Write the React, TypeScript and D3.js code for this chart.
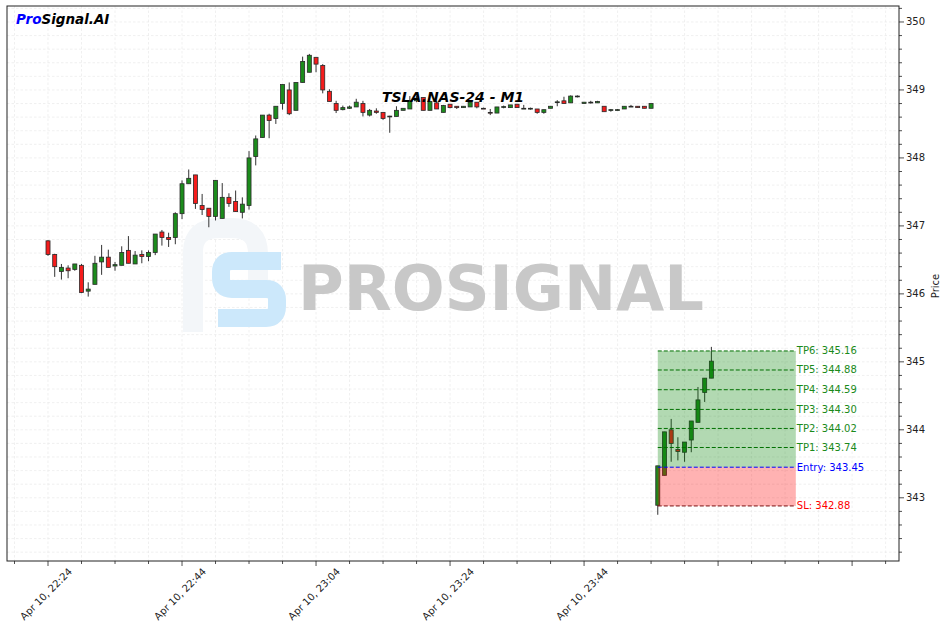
import React from "react";
import * as d3 from "d3";

// minute index 0 = Apr 10, 22:24
const opens = [
  346.78, 346.58, 346.33, 346.38, 346.36, 346.42, 346.04, 346.14, 346.47, 346.54,
  346.41, 346.42, 346.64, 346.44, 346.58, 346.55, 346.61, 346.91, 346.83, 346.83,
  347.18, 347.62, 347.75, 347.30, 347.26, 347.14, 347.11, 347.42, 347.36, 347.20,
  347.30, 348.02, 348.30, 348.63, 348.58, 348.80, 349.00, 348.70, 349.11, 349.26,
  349.48, 349.36, 348.98, 348.80, 348.71, 348.73, 348.75, 348.80, 348.63, 348.69,
  348.67, 348.61, 348.61, 348.70, 348.72, 348.84, 348.89, 348.70, 348.81, 348.67,
  348.79, 348.76, 348.74, 348.75, 348.82, 348.73, 348.67, 348.66, 348.75, 348.74,
  348.79, 348.73, 348.72, 348.72, 348.67, 348.73, 348.82, 348.84, 348.81, 348.91,
  348.80, 348.82, 348.81, 348.76, 348.71, 348.71, 348.72, 348.76, 348.76, 348.76,
  348.73, 342.89, 343.33, 344.00, 343.71, 343.67, 343.85, 344.11, 344.55, 344.76,
];
const highs = [
  346.79, 346.59, 346.44, 346.42, 346.44, 346.44, 346.17, 346.56, 346.72, 346.65,
  346.47, 346.70, 346.85, 346.63, 346.64, 346.64, 346.88, 346.94, 346.90, 347.20,
  347.67, 347.83, 347.75, 347.47, 347.26, 347.67, 347.63, 347.48, 347.52, 347.42,
  348.10, 348.33, 348.63, 348.65, 348.76, 349.08, 349.11, 349.11, 349.49, 349.53,
  349.48, 349.38, 349.01, 348.84, 348.77, 348.77, 348.87, 348.84, 348.72, 348.73,
  348.67, 348.62, 348.76, 348.73, 348.91, 348.92, 348.89, 348.84, 348.84, 348.78,
  348.79, 348.76, 348.76, 348.84, 348.82, 348.74, 348.72, 348.75, 348.77, 348.78,
  348.79, 348.78, 348.74, 348.72, 348.71, 348.76, 348.85, 348.90, 348.92, 348.92,
  348.82, 348.84, 348.84, 348.76, 348.72, 348.72, 348.76, 348.78, 348.76, 348.76,
  348.80, 343.47, 343.97, 344.16, 343.89, 343.82, 344.13, 344.63, 344.76, 345.22,
];
const lows = [
  346.56, 346.25, 346.21, 346.23, 346.34, 346.01, 345.96, 346.14, 346.28, 346.39,
  346.34, 346.42, 346.45, 346.44, 346.45, 346.48, 346.57, 346.71, 346.69, 346.73,
  347.10, 347.62, 347.25, 347.16, 346.98, 347.08, 347.11, 347.28, 347.21, 347.11,
  347.24, 347.89, 348.30, 348.29, 348.50, 348.71, 348.63, 348.70, 349.11, 349.26,
  349.26, 348.95, 348.83, 348.66, 348.70, 348.72, 348.75, 348.61, 348.61, 348.65,
  348.56, 348.37, 348.61, 348.70, 348.72, 348.82, 348.70, 348.70, 348.72, 348.67,
  348.73, 348.72, 348.74, 348.75, 348.73, 348.72, 348.63, 348.66, 348.73, 348.74,
  348.74, 348.73, 348.71, 348.65, 348.65, 348.73, 348.76, 348.80, 348.81, 348.89,
  348.80, 348.80, 348.81, 348.68, 348.68, 348.70, 348.72, 348.75, 348.74, 348.73,
  348.73, 342.75, 343.33, 343.53, 343.55, 343.53, 343.67, 344.11, 344.41, 344.76,
];
const closes = [
  346.58, 346.40, 346.39, 346.34, 346.44, 346.02, 346.07, 346.45, 346.54, 346.39,
  346.43, 346.61, 346.45, 346.57, 346.55, 346.61, 346.88, 346.83, 346.80, 347.18,
  347.62, 347.70, 347.33, 347.24, 347.14, 347.67, 347.42, 347.33, 347.21, 347.32,
  348.00, 348.28, 348.63, 348.55, 348.76, 349.08, 348.65, 349.11, 349.42, 349.51,
  349.38, 349.00, 348.83, 348.70, 348.74, 348.75, 348.82, 348.67, 348.70, 348.67,
  348.58, 348.615, 348.70, 348.73, 348.84, 348.88, 348.70, 348.83, 348.72, 348.77,
  348.74, 348.74, 348.76, 348.82, 348.75, 348.72, 348.66, 348.75, 348.755, 348.78,
  348.74, 348.73, 348.73, 348.67, 348.71, 348.76, 348.825, 348.80, 348.91, 348.91,
  348.82, 348.82, 348.83, 348.68, 348.71, 348.71, 348.76, 348.76, 348.74, 348.73,
  348.80, 343.47, 343.97, 343.80, 343.68, 343.82, 344.13, 344.44, 344.76, 345.01,
];

const xMajorMinutes = [0, 20, 40, 60, 80, 100, 120];
const xTickLabels = ["Apr 10, 22:24", "Apr 10, 22:44", "Apr 10, 23:04", "Apr 10, 23:24", "Apr 10, 23:44", "", ""];
const yTicks = [343, 344, 345, 346, 347, 348, 349, 350];

const tpNames = ["TP1", "TP2", "TP3", "TP4", "TP5", "TP6"];
const tpLevels = [343.74, 344.02, 344.3, 344.59, 344.88, 345.16];
const entryPrice = 343.45;
const slPrice = 342.88;
const tradeStart = 91;
const tradeEnd = 111.6;

const titleText = "TSLA.NAS-24 - M1";

const W = 947, H = 630;
const L = 7, R = 899, T = 6, B = 561;
const FONT = "DejaVu Sans, sans-serif";

export default function App() {
  const x = d3.scaleLinear().domain([-6.12, 127.0]).range([L, R]);
  const y = d3.scaleLinear().domain([342.07, 350.235]).range([B, T]);
  const bw = x(0.3) - x(-0.3);

  const yMinor = d3.range(3422, 3503, 2).map((v) => v / 10);
  const xMinor = d3.range(-5, 126, 5);

  const green = "#1c8c1c";
  const red = "#f51c1c";

  const candles = opens.map((o, i) => ({ i, o, h: highs[i], l: lows[i], c: closes[i] }));

  return (
    <div style={{ position: "fixed", left: 0, top: 0 }}>
      <svg width={W} height={H} style={{ display: "block", background: "#fff" }}>
        <rect x={0} y={0} width={W} height={H} fill="#fff" />
        {/* grid */}
        <g>
          {yMinor.map((v) => (
            <line key={"gy" + v} x1={L} x2={R} y1={y(v)} y2={y(v)} stroke="#e6e6e6" strokeWidth={0.6} strokeDasharray="2.5,2" />
          ))}
          {xMinor.map((v) => (
            <line key={"gx" + v} x1={x(v)} x2={x(v)} y1={T} y2={B} stroke="#e6e6e6" strokeWidth={0.6} strokeDasharray="2.5,2" />
          ))}
        </g>

        {/* watermark */}
        <g>
          <path d="M 193 332 V 252 Q 193 228 220 228 H 232 Q 258 228 258 254 V 280" fill="none" stroke="#f3f6f9" strokeWidth={20} />
          <path d="M 281 261 H 232 Q 221 261 221 272 V 278 Q 221 289 232 289 H 266 Q 277 289 277 300 V 306 Q 277 318 266 318 H 218" fill="none" stroke="#cce8fb" strokeWidth={18} />
          <text x={298} y={310} fontFamily={FONT} fontWeight="bold" fontSize={63} fill="#c8c8c8" textLength={406} lengthAdjust="spacingAndGlyphs">PROSIGNAL</text>
        </g>

        {/* candles */}
        <g>
          {candles.map((d) => {
            const up = d.c >= d.o;
            const top = y(Math.max(d.o, d.c));
            const bot = y(Math.min(d.o, d.c));
            const hgt = Math.max(bot - top, 0.8);
            return (
              <g key={"c" + d.i}>
                <line x1={x(d.i)} x2={x(d.i)} y1={y(d.h)} y2={y(d.l)} stroke="#333" strokeWidth={1} />
                <rect x={x(d.i) - bw / 2} y={top} width={bw} height={hgt} fill={up ? green : red} stroke="#2a2a2a" strokeWidth={0.8} />
              </g>
            );
          })}
        </g>

        {/* trade zones (drawn over the candles, translucent) */}
        <rect x={x(tradeStart)} width={x(tradeEnd) - x(tradeStart)} y={y(tpLevels[5])} height={y(entryPrice) - y(tpLevels[5])} fill="rgb(0,128,0)" fillOpacity={0.3} />
        <rect x={x(tradeStart)} width={x(tradeEnd) - x(tradeStart)} y={y(entryPrice)} height={y(slPrice) - y(entryPrice)} fill="rgb(255,0,0)" fillOpacity={0.3} />

        {/* levels */}
        {tpLevels.map((v, k) => (
          <g key={"tp" + k}>
            <line x1={x(tradeStart)} x2={x(tradeEnd)} y1={y(v)} y2={y(v)} stroke="#007000" strokeWidth={1} strokeDasharray="4,2" />
            <text x={x(tradeEnd) + 1} y={y(v)} dominantBaseline="central" fontFamily={FONT} fontSize={10} fill="#1a8a1a">{`${tpNames[k]}: ${v.toFixed(2)}`}</text>
          </g>
        ))}
        <line x1={x(tradeStart)} x2={x(tradeEnd)} y1={y(entryPrice)} y2={y(entryPrice)} stroke="#0000ff" strokeWidth={1} strokeDasharray="4,2" />
        <text x={x(tradeEnd) + 1} y={y(entryPrice)} dominantBaseline="central" fontFamily={FONT} fontSize={10} fill="#0000ff">{`Entry: ${entryPrice.toFixed(2)}`}</text>
        <line x1={x(tradeStart)} x2={x(tradeEnd)} y1={y(slPrice)} y2={y(slPrice)} stroke="#7a1010" strokeWidth={1} strokeDasharray="4,2" />
        <text x={x(tradeEnd) + 1} y={y(slPrice)} dominantBaseline="central" fontFamily={FONT} fontSize={10} fill="#ff0000">{`SL: ${slPrice.toFixed(2)}`}</text>

        {/* frame */}
        <rect x={L} y={T} width={R - L} height={B - T} fill="none" stroke="#222" strokeWidth={1} />

        {/* x axis ticks */}
        {xMinor.map((v) => (
          <line key={"xt" + v} x1={x(v)} x2={x(v)} y1={B} y2={B + (xMajorMinutes.includes(v) ? 5 : 3)} stroke="#222" strokeWidth={0.8} />
        ))}
        {xMajorMinutes.map((v, k) => (
          <text key={"xl" + v} transform={`translate(${x(v) - 2},${B + 33}) rotate(-45)`} textAnchor="middle" dominantBaseline="central" fontFamily={FONT} fontSize={10} fill="#222">{xTickLabels[k]}</text>
        ))}

        {/* y axis ticks (right) */}
        {yMinor.map((v) => (
          <line key={"yt" + v} x1={R} x2={R + (yTicks.includes(Math.round(v * 10) / 10) ? 5 : 3)} y1={y(v)} y2={y(v)} stroke="#222" strokeWidth={0.8} />
        ))}
        {yTicks.map((v) => (
          <text key={"yl" + v} x={R + 7} y={y(v)} dominantBaseline="central" fontFamily={FONT} fontSize={10} fill="#222">{v}</text>
        ))}
        <text transform={`translate(${935},${286}) rotate(-90)`} textAnchor="middle" dominantBaseline="central" fontFamily={FONT} fontSize={10} fill="#222">Price</text>

        {/* titles */}
        <text x={(L + R) / 2} y={102} textAnchor="middle" fontFamily={FONT} fontWeight="bold" fontStyle="italic" fontSize={14} fill="#000">{titleText}</text>
        <text x={16} y={24} fontFamily={FONT} fontWeight="bold" fontStyle="italic" fontSize={13.5}>
          <tspan fill="#0000ff">Pro</tspan>
          <tspan fill="#000">Signal.AI</tspan>
        </text>
      </svg>
    </div>
  );
}
